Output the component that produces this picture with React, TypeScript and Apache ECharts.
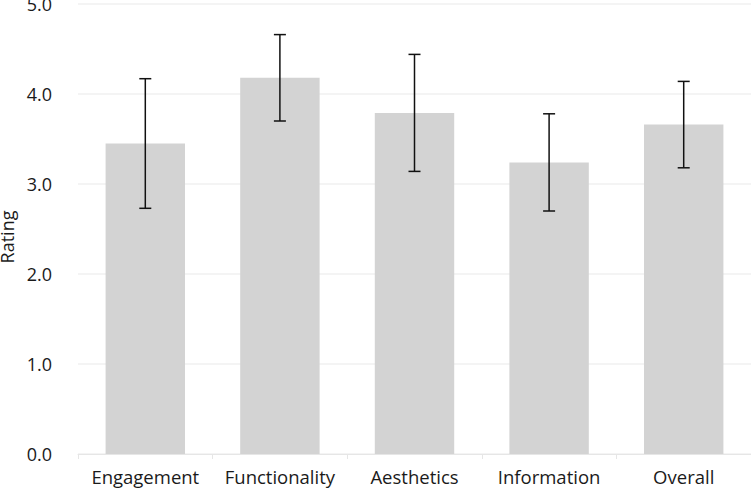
import React, { useEffect, useRef } from "react";
import * as echarts from "echarts";

const categories = ["Engagement", "Functionality", "Aesthetics", "Information", "Overall"];
const means = [3.45, 4.18, 3.79, 3.24, 3.66];
const lows = [2.73, 3.70, 3.14, 2.70, 3.18];
const highs = [4.17, 4.66, 4.44, 3.78, 4.14];
const yTicks = [0, 1, 2, 3, 4, 5];

export default function App() {
  const ref = useRef<HTMLDivElement>(null);
  useEffect(() => {
    document.body.style.margin = "0";
    const chart = echarts.init(ref.current!, null, { renderer: "svg" });
    const font = "'Open Sans', 'Noto Sans', sans-serif";
    chart.setOption({
      animation: false,
      grid: { left: 78, right: 0, top: 4, bottom: 37, containLabel: false, outerBoundsMode: "none" },
      xAxis: {
        type: "category",
        data: categories,
        axisLine: { lineStyle: { color: "#e6e6e6", width: 1 } },
        axisTick: { show: true, length: 5, lineStyle: { color: "#e6e6e6" } },
        axisLabel: { color: "#1a1a1a", fontSize: 18.5, fontFamily: font, margin: 13, interval: 0, hideOverlap: false },
      },
      yAxis: {
        type: "value",
        min: yTicks[0],
        max: yTicks[yTicks.length - 1],
        interval: 1,
        name: "Rating",
        nameLocation: "middle",
        nameGap: 59,
        nameTextStyle: { color: "#1a1a1a", fontSize: 18, fontFamily: font, padding: [0, 16, 0, 0] },
        axisLine: { show: false },
        axisTick: { show: false },
        splitLine: { lineStyle: { color: "#f0f0f0", width: 1.5 } },
        axisLabel: {
          color: "#1a1a1a",
          fontSize: 18,
          fontFamily: font,
          margin: 26,
          formatter: (v: number) => v.toFixed(1),
        },
      },
      series: [
        {
          type: "bar",
          data: means,
          barWidth: "59%",
          itemStyle: { color: "#d3d3d3" },
        },
        {
          type: "custom",
          data: categories.map((_, i) => [i, lows[i], highs[i]]),
          renderItem: (params: any, api: any) => {
            const x = api.value(0);
            const lo = api.coord([x, api.value(1)]);
            const hi = api.coord([x, api.value(2)]);
            const hw = 6;
            const style = { stroke: "#111", lineWidth: 1.5, fill: "none" };
            return {
              type: "group",
              children: [
                { type: "line", shape: { x1: lo[0], y1: lo[1], x2: hi[0], y2: hi[1] }, style },
                { type: "line", shape: { x1: hi[0] - hw, y1: hi[1], x2: hi[0] + hw, y2: hi[1] }, style },
                { type: "line", shape: { x1: lo[0] - hw, y1: lo[1], x2: lo[0] + hw, y2: lo[1] }, style },
              ],
            };
          },
          z: 10,
        },
      ],
    });
    return () => chart.dispose();
  }, []);
  return <div ref={ref} style={{ width: 751, height: 491 }} />;
}
